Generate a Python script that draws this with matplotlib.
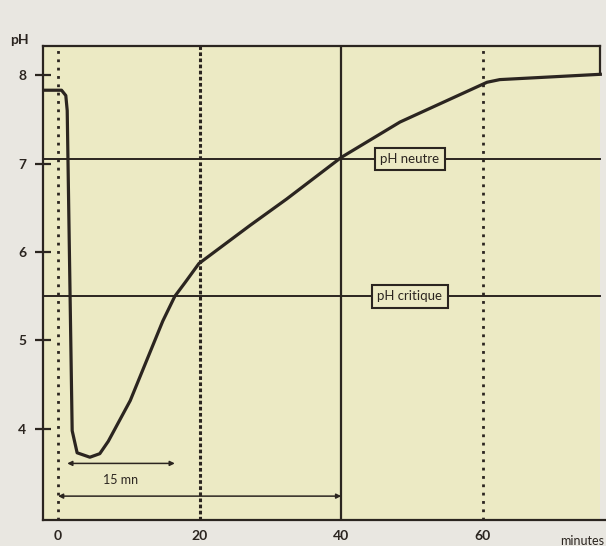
import matplotlib.pyplot as plt

# pH curve (Stephan curve)
minutes = [-2.1, 0.5, 1.1, 1.3, 2.0, 2.7, 4.5, 5.9, 7.1, 10.2, 14.8, 16.5, 17.9, 19.9,
           27.1, 32.3, 40.0, 48.3, 60.6, 62.4, 76.6]
ph = [7.83, 7.83, 7.77, 7.60, 3.98, 3.73, 3.68, 3.72, 3.86, 4.32, 5.22, 5.50, 5.65, 5.87,
      6.30, 6.60, 7.07, 7.47, 7.92, 7.95, 8.01]

x_ticks = [0, 20, 40, 60]
y_ticks = [4, 5, 6, 7, 8]
ph_neutre = 7.05
ph_critique = 5.5

ink = '#2b2520'
paper = '#e9e7e1'
panel = '#eceac4'
plt.rcParams['font.family'] = ['Lato', 'DejaVu Sans']

fig = plt.figure(figsize=(6.06, 5.46), dpi=100, facecolor=paper)
ax = fig.add_axes([43 / 606, 26 / 546, 563 / 606, 474 / 546])
ax.set_facecolor(panel)
ax.set_xlim(-2.12, 77.4)
ax.set_ylim(2.97, 8.33)

# frame: left and bottom spines, top and right drawn by hand
for s in ['top', 'right']:
    ax.spines[s].set_visible(False)
for s in ['left', 'bottom']:
    ax.spines[s].set_color(ink)
    ax.spines[s].set_linewidth(1.6)
ax.plot([-2.12, 76.6], [8.33, 8.33], color=ink, lw=1.6, clip_on=False)
ax.plot([76.6, 76.6], [8.01, 8.33], color=ink, lw=1.6, clip_on=False)
ax.axvspan(76.6, 77.4, color=paper, lw=0)

# vertical reference lines
ax.axvline(0, color=ink, lw=2, ls=(0, (1, 2)))
ax.axvline(20, color=ink, lw=2.2, ls=(0, (1.2, 0.8)))
ax.axvline(40, color=ink, lw=1.6)
ax.axvline(60, color=ink, lw=2, ls=(0, (1, 2)))

# horizontal pH levels
ax.plot([-2.12, 76.6], [ph_neutre, ph_neutre], color=ink, lw=1.4)
ax.plot([-2.12, 76.6], [ph_critique, ph_critique], color=ink, lw=1.4)
box = dict(boxstyle='square,pad=0.4', facecolor=panel, edgecolor=ink, lw=1.5)
ax.text(49.7, ph_neutre, 'pH neutre', ha='center', va='center', fontsize=9.5,
        color=ink, bbox=box)
ax.text(49.7, ph_critique, 'pH critique', ha='center', va='center', fontsize=9.5,
        color=ink, bbox=box)

# the curve
ax.plot(minutes, ph, color=ink, lw=2.3, solid_joinstyle='round')

# arrows
arrow = dict(arrowstyle='<|-|>', color=ink, lw=1.1, mutation_scale=7, shrinkA=0, shrinkB=0)
ax.annotate('', xy=(1.3, 3.61), xytext=(16.5, 3.61), arrowprops=arrow)
ax.text(8.9, 3.42, '15 mn', ha='center', va='center', fontsize=9, color=ink)
ax.annotate('', xy=(0, 3.24), xytext=(40, 3.24), arrowprops=arrow)

# ticks
ax.set_xticks(x_ticks)
ax.set_xticklabels([str(t) for t in x_ticks], fontsize=10, fontweight='bold', color=ink)
ax.tick_params(axis='x', length=0, pad=7)
ax.set_yticks(y_ticks)
ax.set_yticklabels([str(t) for t in y_ticks], fontsize=10, fontweight='bold', color=ink)
ax.tick_params(axis='y', direction='inout', length=12, width=1.6, color=ink, pad=6)

ax.text(-0.025, 1.0, 'pH', transform=ax.transAxes, ha='right', va='bottom',
        fontsize=10, fontweight='bold', color=ink)
ax.text(77.2, 2.73, 'minutes', ha='right', va='center', fontsize=9, color=ink,
        clip_on=False)

plt.savefig('out.png', dpi=100, facecolor=paper)
